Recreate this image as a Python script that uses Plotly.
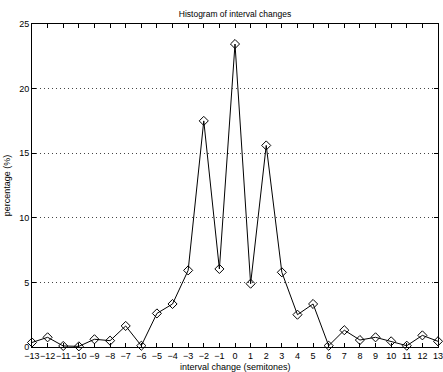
import plotly.graph_objects as go

intervals = list(range(-13, 14))
percentages = [0.35, 0.75, 0.08, 0.05, 0.6, 0.49, 1.63, 0.1, 2.6, 3.33, 5.93, 17.5, 6.04,
               23.45, 4.9, 15.6, 5.78, 2.5, 3.33, 0.1, 1.3, 0.54, 0.75, 0.44, 0.1, 0.9, 0.44]
y_ticks = [0, 5, 10, 15, 20, 25]

font = "Liberation Sans, Arial, sans-serif"

fig = go.Figure()
fig.add_trace(go.Scatter(
    x=intervals, y=percentages, mode="lines+markers",
    line=dict(color="black", width=1),
    marker=dict(symbol="diamond-open", size=7, color="black", line=dict(width=1)),
    showlegend=False, cliponaxis=False,
))

fig.update_layout(
    width=443, height=372,
    margin=dict(l=32, r=5, t=24, b=25),
    paper_bgcolor="white", plot_bgcolor="white",
    font=dict(family=font, size=9, color="black"),
    title=dict(text="Histogram of interval changes", xref="paper", x=0.5, xanchor="center",
               yref="container", y=1 - 14 / 372, yanchor="middle", font=dict(size=8.5, family=font)),
    annotations=[dict(text="interval change (semitones)", xref="paper", yref="paper",
                      x=0.5, y=-20 / 323, xanchor="center", yanchor="middle",
                      showarrow=False, font=dict(size=9, family=font))],
)
fig.update_xaxes(
    range=[-13, 13], tickmode="array", tickvals=intervals,
    ticktext=[str(v).replace("-", "\u2212") for v in intervals],
    tickangle=0, ticks="inside", ticklen=4, tickcolor="black",
    showline=True, linecolor="black", linewidth=1, mirror="ticks",
    showgrid=False, zeroline=False, automargin=False,
    tickfont=dict(size=9), ticklabeloverflow="allow",
)
fig.update_yaxes(
    range=[0, 25], tickmode="array", tickvals=y_ticks,
    ticks="inside", ticklen=4, tickcolor="black",
    showline=True, linecolor="black", linewidth=1, mirror="ticks",
    showgrid=True, gridcolor="#444444", griddash="1px,3px", gridwidth=1,
    zeroline=False, automargin=False,
    title=dict(text="percentage (%)", standoff=7, font=dict(size=9)),
    tickfont=dict(size=9),
)

fig.write_html("out.html", config={"displayModeBar": False},
               post_script="document.body.style.margin='0';document.body.style.overflow='hidden';")
